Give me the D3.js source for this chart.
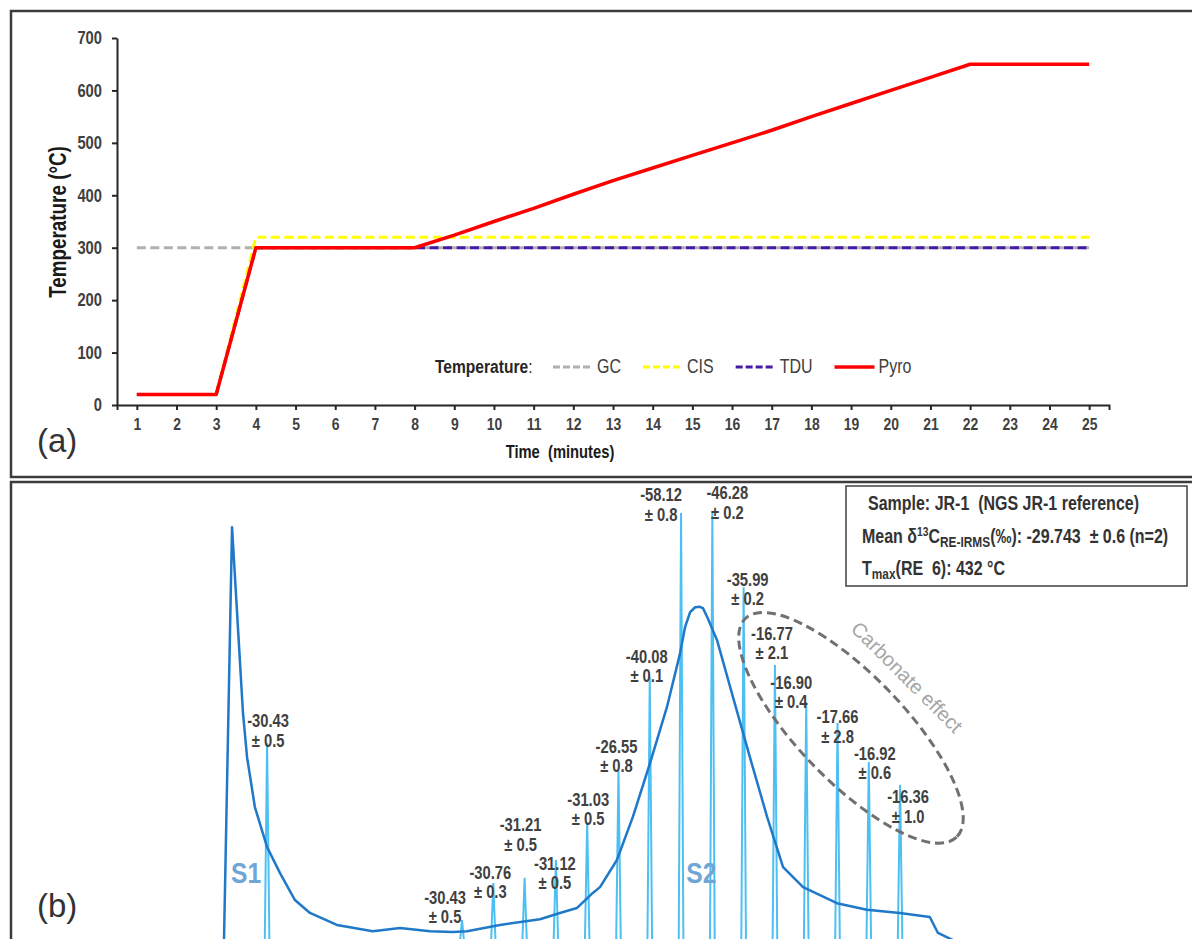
<!DOCTYPE html>
<html>
<head>
<meta charset="utf-8">
<script src="https://cdn.jsdelivr.net/npm/d3@7/dist/d3.min.js"></script>
<style>
  body { margin: 0; background: #fff; }
  svg { display: block; }
</style>
</head>
<body>
<div id="wrapper"></div>
<script>
// Data, panel (a): temperature programmes
const timeTicks = [1, 2, 3, 4, 5, 6, 7, 8, 9, 10, 11, 12, 13, 14, 15, 16, 17, 18, 19, 20, 21, 22, 23, 24, 25];
const tempTicks = [0, 100, 200, 300, 400, 500, 600, 700];

const gcTime = [1, 25];
const gcTemp = [300, 300];
const cisTime = [1, 3, 4, 25];
const cisTemp = [20, 20, 320, 320];
const tduTime = [1, 3, 4, 8, 25];
const tduTemp = [20, 20, 300, 300, 300];
const pyroTime = [1, 3, 4, 8, 9, 10, 11, 12, 13, 14, 15, 16, 17, 18, 19, 20, 21, 22, 25];
const pyroTemp = [20, 20, 300, 300, 324, 350, 375, 402, 428, 452, 476, 500, 524, 550, 575, 600, 625, 650, 650];

// Data, panel (b): FID trace and RE-IRMS peaks
const traceTime = [0.39, 0.65, 1.0, 1.13, 1.38, 1.77, 2.18, 2.66, 3.14, 4.0, 5.15, 6.02, 6.98, 7.71, 8.16, 9.21,
  10.49, 11.13, 11.67, 12.18, 12.41, 12.95, 13.46, 14.01, 14.55, 14.97, 15.13, 15.29, 15.45, 15.6, 15.7, 15.85, 16.15, 16.66,
  17.2, 17.75, 18.26, 18.9, 19.98, 20.94, 21.99, 22.95, 23.21, 23.69, 24.08];
const traceSignal = [0, 93.9, 52.1, 42.2, 31.0, 22.0, 16.2, 10.1, 7.2, 4.5, 3.1, 3.8, 3.1, 2.9, 3.1, 4.5,
  5.8, 7.2, 8.3, 11.7, 13.0, 19.1, 28.8, 40.9, 53.5, 65.6, 71.5, 74.8, 75.9, 76.0, 75.7, 73.5, 68.5, 55.7,
  42.2, 28.8, 17.5, 13.0, 9.4, 7.9, 7.2, 6.3, 2.7, 1.1, 0];

const peakTime = [1.77, 8, 9, 10, 11, 12, 13, 14, 15, 16, 17, 18, 19, 20, 21, 22];
const peakHeight = [45.4, 5.6, 13.9, 15.1, 19.1, 27.6, 39.3, 60.2, 97.1, 97.1, 80.4, 62.9, 54.6, 49.9, 41.1, 36.0];
const peakDelta = ['-30.43', '-30.43', '-30.76', '-31.21', '-31.12', '-31.03', '-26.55', '-40.08',
  '-58.12', '-46.28', '-35.99', '-16.77', '-16.90', '-17.66', '-16.92', '-16.36'];
const peakError = ['± 0.5', '± 0.5', '± 0.3', '± 0.5', '± 0.5', '± 0.5', '± 0.8', '± 0.1',
  '± 0.8', '± 0.2', '± 0.2', '± 2.1', '± 0.4', '± 2.8', '± 0.6', '± 1.0'];

// Layout: label nudges (px) so the labels sit as in the figure
const labelDx = [1, -17, -3, -4, -1, 1, -2, -3, -20, 15, 4, -3, -15, 0, 6, 8];
const labelDy = [4, 3, 15, -27, 29, 3, 2, 5, 8, 6, 18, -6, 6, 20, 17, 38];

// Fonts: the figure uses a narrow face, so Liberation Sans is squeezed horizontally
const font = "'Liberation Sans', Arial, sans-serif";
const squeeze = 0.82;
const textColor = '#404040';

const series = [
  { name: 'GC', time: gcTime, temp: gcTemp },
  { name: 'CIS', time: cisTime, temp: cisTemp },
  { name: 'TDU', time: tduTime, temp: tduTemp },
  { name: 'Pyro', time: pyroTime, temp: pyroTemp },
];
const seriesStyle = {
  GC: { color: '#b0b0b0', dash: '9,4.5', legendDash: '7,3', width: 3 },
  CIS: { color: '#ffff00', dash: '9,4.5', legendDash: '7,3', width: 3 },
  TDU: { color: '#4519a8', dash: '9,4.5', legendDash: '7,3', width: 3 },
  Pyro: { color: '#ff0000', dash: null, legendDash: null, width: 3.5 },
};

const dimensions = { width: 1192, height: 939 };

const svg = d3
  .select('#wrapper')
  .append('svg')
  .attr('width', dimensions.width)
  .attr('height', dimensions.height)
  .style('font-family', font);

// Place a text squeezed along its own direction
function squeezed(sel, x, y, angle = 0) {
  return sel.attr('transform', `translate(${x}, ${y}) rotate(${angle}) scale(${squeeze}, 1)`);
}

// Panel frames
svg.append('rect')
  .attr('x', 11).attr('y', 11).attr('width', 1200).attr('height', 466)
  .attr('fill', 'none').attr('stroke', '#3c3c3c').attr('stroke-width', 2.5);
svg.append('rect')
  .attr('x', 11).attr('y', 482).attr('width', 1200).attr('height', 500)
  .attr('fill', 'none').attr('stroke', '#3c3c3c').attr('stroke-width', 2.5);

// ---------- Panel (a) ----------
const xScale = d3.scaleLinear().domain([0.5, 25.5]).range([117, 1109]);
const yScale = d3.scaleLinear().domain([0, 700]).range([405, 38]);

const xAxis = d3.axisBottom(xScale).tickValues(timeTicks).tickSize(5).tickSizeOuter(5).tickPadding(8);
const yAxis = d3.axisLeft(yScale).tickValues(tempTicks).tickSize(5).tickSizeOuter(0).tickPadding(10);

const xAxisGroup = svg.append('g')
  .attr('transform', `translate(0, ${yScale(0)})`)
  .call(xAxis);
const yAxisGroup = svg.append('g')
  .attr('transform', `translate(${xScale(0.5)}, 0)`)
  .call(yAxis);

[xAxisGroup, yAxisGroup].forEach((g) => {
  g.select('.domain').attr('stroke', '#262626').attr('stroke-width', 2);
  g.selectAll('.tick line').attr('stroke', '#262626').attr('stroke-width', 2);
  g.selectAll('text')
    .attr('fill', textColor)
    .style('font-family', font)
    .style('font-weight', 'bold')
    .attr('transform', `scale(${squeeze}, 1)`);
});
xAxisGroup.selectAll('text').style('font-size', '17px');
yAxisGroup.selectAll('text').style('font-size', '18px').attr('x', -15 / squeeze);

// Axis titles
svg.append('text')
  .call(squeezed, 560, 458)
  .attr('text-anchor', 'middle')
  .style('font-weight', 'bold').style('font-size', '18px')
  .attr('fill', '#1a1a1a')
  .attr('xml:space', 'preserve')
  .text('Time  (minutes)');

svg.append('text')
  .call(squeezed, 66, 222, -90)
  .attr('text-anchor', 'middle')
  .style('font-weight', 'bold').style('font-size', '23px')
  .attr('fill', '#1a1a1a')
  .text('Temperature (°C)');

// Lines
const tempLine = d3.line().x((d) => xScale(d[0])).y((d) => yScale(d[1]));

svg.append('g')
  .selectAll('path')
  .data(series)
  .join('path')
  .attr('d', (d) => tempLine(d3.zip(d.time, d.temp)))
  .attr('fill', 'none')
  .attr('stroke', (d) => seriesStyle[d.name].color)
  .attr('stroke-width', (d) => seriesStyle[d.name].width)
  .attr('stroke-dasharray', (d) => seriesStyle[d.name].dash)
  .attr('stroke-linejoin', 'round');

// Legend
const legend = svg.append('g');
legend.append('text')
  .call(squeezed, 435, 373)
  .style('font-size', '19px')
  .attr('fill', '#262626')
  .call((t) => {
    t.append('tspan').style('font-weight', 'bold').text('Temperature');
    t.append('tspan').text(':');
  });

let legendX = 553;
series.forEach((s) => {
  const st = seriesStyle[s.name];
  legend.append('line')
    .attr('x1', legendX).attr('x2', legendX + 40)
    .attr('y1', 367).attr('y2', 367)
    .attr('stroke', st.color)
    .attr('stroke-width', st.width)
    .attr('stroke-dasharray', st.legendDash);
  const label = legend.append('text')
    .call(squeezed, legendX + 44, 373)
    .style('font-size', '19.5px')
    .attr('fill', textColor)
    .text(s.name);
  legendX += 44 + label.node().getComputedTextLength() * squeeze + 22;
});

svg.append('text')
  .attr('x', 37).attr('y', 452)
  .style('font-size', '33px')
  .attr('fill', '#333')
  .text('(a)');

// ---------- Panel (b) ----------
const xRt = d3.scaleLinear().domain([0, 31]).range([211.7, 1181.7]);
const ySig = d3.scaleLinear().domain([0, 100]).range([945, 500]);

const chrom = svg.append('g');

// IRMS peaks
const peakHalfWidth = 0.075;
const peakLine = d3.line();
chrom.append('g')
  .selectAll('path')
  .data(d3.zip(peakTime, peakHeight))
  .join('path')
  .attr('d', (d) => peakLine([
    [xRt(d[0] - peakHalfWidth), ySig(0)],
    [xRt(d[0]), ySig(d[1])],
    [xRt(d[0] + peakHalfWidth), ySig(0)],
  ]))
  .attr('fill', 'none')
  .attr('stroke', '#4cc0f2')
  .attr('stroke-width', 2);

// FID trace
const traceLine = d3.line()
  .x((d) => xRt(d[0]))
  .y((d) => ySig(d[1]));
chrom.append('path')
  .attr('d', traceLine(d3.zip(traceTime, traceSignal)))
  .attr('fill', 'none')
  .attr('stroke', '#1f78c8')
  .attr('stroke-width', 2.5)
  .attr('stroke-linejoin', 'round');

// Peak labels
const labels = chrom.append('g')
  .style('font-weight', 'bold').style('font-size', '18px')
  .attr('fill', textColor)
  .attr('text-anchor', 'middle');
peakTime.forEach((t, i) => {
  const lx = xRt(t) + labelDx[i];
  const ly = ySig(peakHeight[i]) + labelDy[i];
  labels.append('text').call(squeezed, lx, ly - 19.5).text(peakDelta[i]);
  labels.append('text').call(squeezed, lx, ly).text(peakError[i]);
});

// S1 / S2
chrom.selectAll('.s-label')
  .data([['S1', 1.1], ['S2', 15.65]])
  .join('text')
  .each(function (d) {
    squeezed(d3.select(this), xRt(d[1]), ySig(13.9));
  })
  .attr('text-anchor', 'middle')
  .style('font-weight', 'bold').style('font-size', '30px')
  .attr('fill', '#6fa6d6')
  .text((d) => d[0]);

// Carbonate effect annotation
chrom.append('ellipse')
  .attr('transform', `translate(${xRt(20.43)}, ${ySig(48.8)}) rotate(46)`)
  .attr('rx', 152).attr('ry', 53)
  .attr('fill', 'none')
  .attr('stroke', '#707070')
  .attr('stroke-width', 3)
  .attr('stroke-dasharray', '9,5');

chrom.append('text')
  .attr('transform', `translate(${xRt(22.22)}, ${ySig(60.2)}) rotate(45)`)
  .attr('text-anchor', 'middle')
  .attr('dominant-baseline', 'central')
  .style('font-size', '20px')
  .attr('fill', '#a6a6a6')
  .text('Carbonate effect');

// Info box
const info = svg.append('g');
info.append('rect')
  .attr('x', 846).attr('y', 486).attr('width', 341).attr('height', 100)
  .attr('fill', '#fff').attr('stroke', '#404040').attr('stroke-width', 1.5);

const infoText = info.append('g')
  .style('font-weight', 'bold').style('font-size', '19.5px')
  .attr('fill', '#333');

infoText.append('text')
  .call(squeezed, 868, 510)
  .attr('xml:space', 'preserve')
  .text('Sample: JR-1  (NGS JR-1 reference)');

infoText.append('text')
  .call(squeezed, 862, 543)
  .attr('xml:space', 'preserve')
  .call((t) => {
    t.append('tspan').text('Mean δ');
    t.append('tspan').attr('dy', -7).style('font-size', '12.5px').text('13');
    t.append('tspan').attr('dy', 7).text('C');
    t.append('tspan').attr('dy', 4).style('font-size', '14.5px').text('RE-IRMS');
    t.append('tspan').attr('dy', -4).text('(‰): -29.743  ± 0.6 (n=2)');
  });

infoText.append('text')
  .call(squeezed, 862, 575)
  .attr('xml:space', 'preserve')
  .call((t) => {
    t.append('tspan').text('T');
    t.append('tspan').attr('dy', 4).style('font-size', '14.5px').text('max');
    t.append('tspan').attr('dy', -4).text('(RE  6): 432 °C');
  });

svg.append('text')
  .attr('x', 37).attr('y', 917)
  .style('font-size', '33px')
  .attr('fill', '#333')
  .text('(b)');
</script>
</body>
</html>
